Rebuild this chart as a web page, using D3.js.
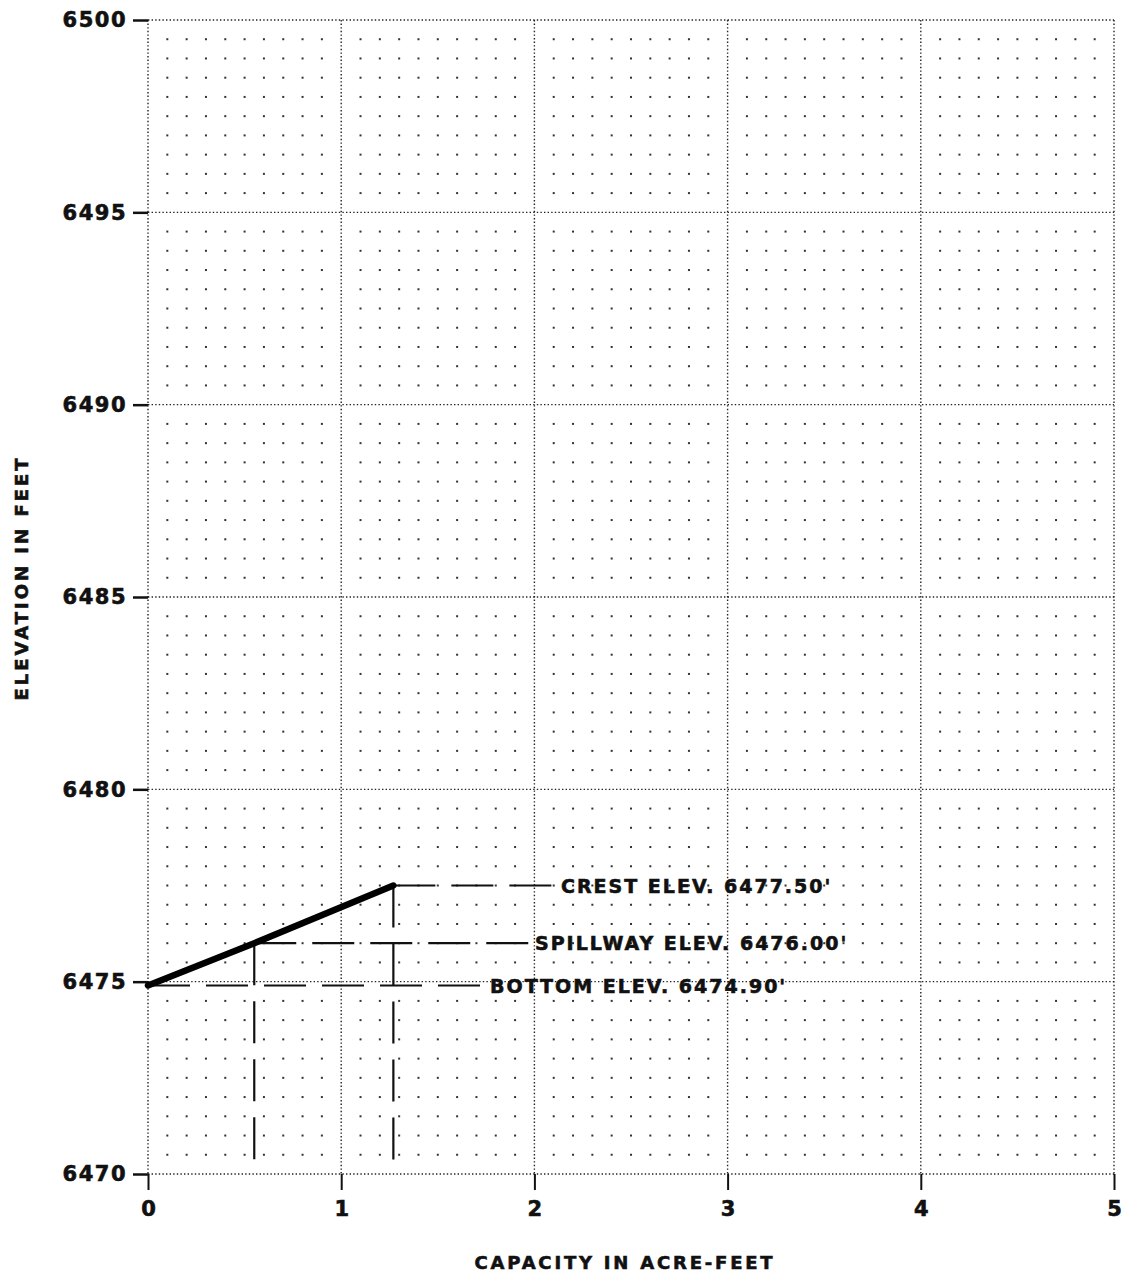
<!DOCTYPE html>
<html>
<head>
<meta charset="utf-8">
<script src="https://cdn.jsdelivr.net/npm/d3@7"></script>
<style>
  body { margin: 0; background: #fff; }
  svg { display: block; }
  text { font-family: "DejaVu Sans", "Liberation Sans", sans-serif; font-weight: bold; fill: #111; stroke: #111; stroke-width: 0.6; }
</style>
</head>
<body>
<svg width="1122" height="1274"></svg>
<script>
const svg = d3.select("svg");

// data
const capacityTicks = [0, 1, 2, 3, 4, 5];
const elevationTicks = [6470, 6475, 6480, 6485, 6490, 6495, 6500];
const curveCapacity = [0, 0.55, 1.27];
const curveElevation = [6474.9, 6476.0, 6477.5];
const markNames = ["CREST ELEV. 6477.50'", "SPILLWAY ELEV. 6476.00'", "BOTTOM ELEV. 6474.90'"];
const markElevation = [6477.5, 6476.0, 6474.9];
const markCapacity = [1.27, 0.55, 0];

// layout
const plotLeft = 148, plotRight = 1114, plotTop = 20, plotBottom = 1174;
const labelX = [556, 530, 485];   // where each leader stops (px)

const x = d3.scaleLinear().domain([0, 5]).range([plotLeft, plotRight]);
const y = d3.scaleLinear().domain([6470, 6500]).range([plotBottom, plotTop]);

// minor dot grid: 0.1 acre-ft by 0.5 ft
const dots = svg.append("g");
const xs = d3.range(0, 50).map(i => i / 10).filter(v => Math.round(v * 10) % 10 !== 0);
const ys = d3.range(0, 60).map(i => 6470 + i / 2).filter(v => Math.round((v - 6470) * 2) % 10 !== 0);
xs.forEach(xv => {
  ys.forEach(yv => {
    dots.append("rect")
      .attr("x", x(xv) - 1).attr("y", y(yv) - 1)
      .attr("width", 2).attr("height", 2)
      .attr("fill", "#333");
  });
});

// major dotted grid
const grid = svg.append("g")
  .attr("stroke", "#222").attr("stroke-width", 1.4)
  .attr("stroke-dasharray", "1.4,2.2");
grid.selectAll(".gx").data(capacityTicks).enter().append("line")
  .attr("x1", d => x(d)).attr("x2", d => x(d))
  .attr("y1", plotTop).attr("y2", plotBottom);
grid.selectAll(".gy").data(elevationTicks).enter().append("line")
  .attr("y1", d => y(d)).attr("y2", d => y(d))
  .attr("x1", plotLeft).attr("x2", plotRight);

// y axis ticks + labels
const yAxis = svg.append("g").attr("transform", `translate(${plotLeft},0)`)
  .call(d3.axisLeft(y).tickValues(elevationTicks).tickFormat(d3.format("d"))
    .tickSize(15).tickPadding(6));
yAxis.select(".domain").remove();
yAxis.selectAll(".tick line").attr("stroke", "#111").attr("stroke-width", 2.5);
yAxis.selectAll(".tick text")
  .attr("font-size", 21).attr("letter-spacing", 1.5).attr("fill", "#111")
  .attr("font-family", "DejaVu Sans").attr("font-weight", "bold");

// x axis ticks + labels
const xAxis = svg.append("g").attr("transform", `translate(0,${plotBottom})`)
  .call(d3.axisBottom(x).tickValues(capacityTicks).tickFormat(d3.format("d"))
    .tickSize(16).tickPadding(11));
xAxis.select(".domain").remove();
xAxis.selectAll(".tick line").attr("stroke", "#111").attr("stroke-width", 2);
xAxis.selectAll(".tick text")
  .attr("font-size", 21).attr("fill", "#111")
  .attr("font-family", "DejaVu Sans").attr("font-weight", "bold");

// axis titles
svg.append("text")
  .attr("transform", `translate(28,${(plotTop + plotBottom) / 2 - 19}) rotate(-90)`)
  .attr("text-anchor", "middle").attr("font-size", 18).attr("letter-spacing", 3)
  .text("ELEVATION IN FEET");
svg.append("text")
  .attr("x", 625).attr("y", 1269)
  .attr("text-anchor", "middle").attr("font-size", 18).attr("letter-spacing", 2.8)
  .text("CAPACITY IN ACRE-FEET");

// leaders
const lead = svg.append("g").attr("stroke", "#111").attr("stroke-width", 2.2)
  .attr("stroke-dasharray", "42,16").attr("fill", "none");
markNames.forEach((name, i) => {
  lead.append("line")
    .attr("x1", x(markCapacity[i])).attr("x2", labelX[i])
    .attr("y1", y(markElevation[i])).attr("y2", y(markElevation[i]));
  if (markCapacity[i] > 0) {
    lead.append("line")
      .attr("x1", x(markCapacity[i])).attr("x2", x(markCapacity[i]))
      .attr("y1", y(markElevation[i])).attr("y2", plotBottom);
  }
  svg.append("text")
    .attr("x", labelX[i] + 5).attr("y", y(markElevation[i]) + 7)
    .attr("font-size", 19).attr("letter-spacing", 2)
    .text(name);
});

// capacity curve
const pts = curveCapacity.map((c, i) => [c, curveElevation[i]]);
svg.append("path")
  .datum(pts)
  .attr("fill", "none").attr("stroke", "#000").attr("stroke-width", 6.5)
  .attr("stroke-linecap", "round")
  .attr("d", d3.line().x(d => x(d[0])).y(d => y(d[1])));
</script>
</body>
</html>
